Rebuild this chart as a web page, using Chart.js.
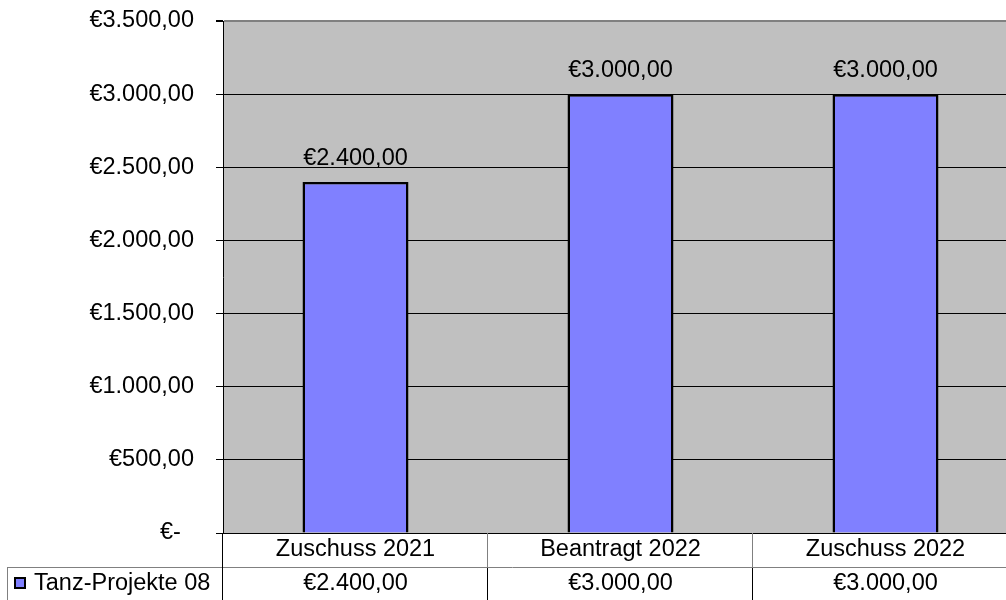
<!DOCTYPE html>
<html lang="de">
<head>
    <meta charset="UTF-8">
    <script src="https://cdn.jsdelivr.net/npm/chart.js"></script>
    <title>Tanz-Projekte 08</title>
    <style>
        html, body { margin: 0; padding: 0; background: #fff; overflow: hidden; }
        #wrap { width: 1018px; height: 600px; }
    </style>
</head>
<body>
    <div id="wrap">
        <canvas id="chart" width="1018" height="600"></canvas>
    </div>

    <script>
        // data
        const categories = ['Zuschuss 2021', 'Beantragt 2022', 'Zuschuss 2022'];
        const seriesName = 'Tanz-Projekte 08';
        const values = [2400, 3000, 3000];
        const yTicks = [0, 500, 1000, 1500, 2000, 2500, 3000, 3500];

        const FONT = '"Liberation Sans", Arial, sans-serif';
        const FSIZE = 23.5;

        function euro(v) {
            if (v === 0) return '€-  ';
            const s = v.toFixed(2).split('.');
            return '€' + s[0].replace(/\B(?=(\d{3})+(?!\d))/g, '.') + ',' + s[1];
        }

        // grey plot background
        const plotBg = {
            id: 'plotBg',
            beforeDraw(chart) {
                const { ctx, chartArea: a } = chart;
                ctx.save();
                ctx.fillStyle = '#C0C0C0';
                ctx.fillRect(a.left, a.top, a.right - a.left, a.bottom - a.top);
                ctx.restore();
            }
        };

        // value labels above bars
        const barLabels = {
            id: 'barLabels',
            afterDatasetsDraw(chart) {
                const ctx = chart.ctx;
                const meta = chart.getDatasetMeta(0);
                ctx.save();
                ctx.font = FSIZE + 'px ' + FONT;
                ctx.fillStyle = '#000';
                ctx.textAlign = 'center';
                ctx.textBaseline = 'alphabetic';
                meta.data.forEach((bar, i) => {
                    ctx.fillText(euro(values[i]), bar.x, bar.y - 17);
                });
                ctx.restore();
            }
        };

        // data table under the x axis
        const dataTable = {
            id: 'dataTable',
            afterDraw(chart) {
                const ctx = chart.ctx;
                const x = chart.scales.x;
                const a = chart.chartArea;
                const top = a.bottom;
                const mid = top + 34;
                const bot = chart.height;
                const half = (x.getPixelForTick(1) - x.getPixelForTick(0)) / 2;

                ctx.save();
                ctx.lineWidth = 1;

                // grey lines
                ctx.strokeStyle = '#808080';
                ctx.beginPath();
                ctx.moveTo(7, mid + 0.5); ctx.lineTo(chart.width, mid + 0.5);
                ctx.moveTo(7.5, mid); ctx.lineTo(7.5, bot);
                categories.forEach((c, i) => {
                    if (i === 0) return;
                    const px = Math.round(x.getPixelForTick(i) - half) - 0.5;
                    ctx.moveTo(px, top); ctx.lineTo(px, mid);
                });
                ctx.stroke();

                // black lines
                ctx.strokeStyle = '#000';
                ctx.beginPath();
                ctx.moveTo(a.left - 0.5, top); ctx.lineTo(a.left - 0.5, bot);
                categories.forEach((c, i) => {
                    if (i === 0) return;
                    const px = Math.round(x.getPixelForTick(i) - half) - 0.5;
                    ctx.moveTo(px, mid + 1); ctx.lineTo(px, bot);
                });
                ctx.stroke();

                // texts
                ctx.font = FSIZE + 'px ' + FONT;
                ctx.fillStyle = '#000';
                ctx.textAlign = 'center';
                ctx.textBaseline = 'middle';
                categories.forEach((c, i) => {
                    const cx = x.getPixelForTick(i);
                    ctx.fillText(c, cx, top + 17);
                    ctx.fillText(euro(values[i]), cx, mid + 17);
                });

                // legend key
                ctx.fillStyle = '#8080FF';
                ctx.fillRect(15, 578, 10, 10);
                ctx.strokeStyle = '#000';
                ctx.lineWidth = 2;
                ctx.strokeRect(15, 578, 10, 10);
                ctx.fillStyle = '#000';
                ctx.textAlign = 'left';
                ctx.fillText(seriesName, 34, mid + 17);
                ctx.restore();
            }
        };

        const ctx = document.getElementById('chart').getContext('2d');
        new Chart(ctx, {
            type: 'bar',
            data: {
                labels: categories,
                datasets: [{
                    label: seriesName,
                    data: values,
                    backgroundColor: '#8080FF',
                    borderColor: '#000000',
                    borderWidth: 2.5,
                    borderSkipped: 'bottom',
                    categoryPercentage: 1.0,
                    barPercentage: 0.4
                }]
            },
            options: {
                responsive: false,
                animation: false,
                layout: { padding: { top: 21, left: 0, right: 0, bottom: 0 } },
                plugins: {
                    legend: { display: false },
                    tooltip: { enabled: false }
                },
                scales: {
                    x: {
                        ticks: { display: false },
                        grid: { display: false },
                        border: { display: false },
                        afterFit(s) { s.height = 67; s.paddingLeft = 0; s.paddingRight = 0; }
                    },
                    y: {
                        min: 0,
                        max: 3500,
                        afterBuildTicks(s) { s.ticks = yTicks.map(v => ({ value: v })); },
                        afterFit(s) { s.width = 223; s.paddingTop = 0; s.paddingBottom = 0; },
                        ticks: {
                            padding: 22,
                            color: '#000',
                            font: { family: FONT, size: FSIZE },
                            callback: (v) => euro(v)
                        },
                        grid: {
                            color: (c) => c.tick && c.tick.value === 3500 ? '#808080' : '#000',
                            lineWidth: (c) => c.tick && c.tick.value === 3500 ? 2 : 1,
                            tickLength: 7,
                            tickColor: '#000'
                        },
                        border: { display: true, color: '#000', width: 1 }
                    }
                }
            },
            plugins: [plotBg, barLabels, dataTable]
        });
    </script>
</body>
</html>
